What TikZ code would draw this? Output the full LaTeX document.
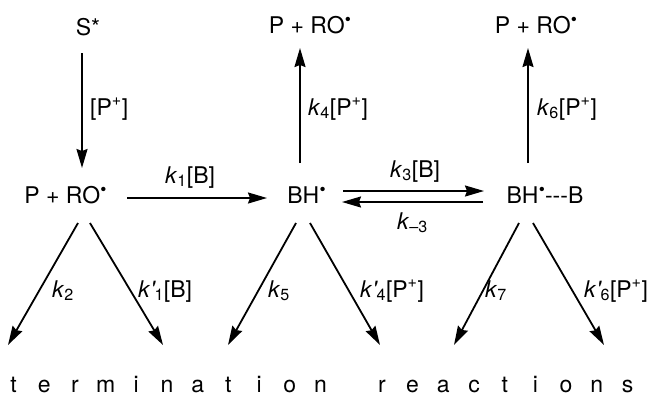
\documentclass[tikz,border=0pt]{standalone}
\usepackage{fontspec}
\setmainfont{TeX Gyre Heros}
\usetikzlibrary{arrows.meta,calc}
\newcommand{\rad}{\kern0.3pt\raisebox{7.3pt}{\fontsize{17.5}{17.5}\selectfont\textbullet}}
\newcommand{\kk}{\textit{k}}
\newcommand{\kp}{\textit{k}\textit{\textquotesingle}\kern-1.5pt}
\begin{document}
\begin{tikzpicture}[x=1pt,y=-1pt,
  every node/.style={inner sep=0pt,anchor=base,font=\fontsize{23}{27}\selectfont},
  lbl/.style={anchor=base west},
  arr/.style={line width=1.8pt,-{Stealth[length=19pt,width=11pt,inset=2pt]}},
  letter/.style={anchor=base}]
\useasboundingbox (0,0) rectangle (649,405);
% species
\node (S)   at (88,35)    {S*};
\node (P1)  at (65.5,203) {P + RO\rad};
\node (BH)  at (306.5,203){BH\rad};
\node (BHB) at (545,203)  {BH\rad-{}-{}-B};
\node (P2)  at (310,33)   {P + RO\rad};
\node (P3)  at (536,33)   {P + RO\rad};
% free ends
\coordinate (t1) at (8,345);
\coordinate (t2) at (163,345);
\coordinate (t3) at (228,345);
\coordinate (t4) at (380,345);
\coordinate (t5) at (454,345);
\coordinate (t6) at (604,345);
% connectors
\draw[arr] ($(S.base)+(-6,18)$) -- ($(P1.base)+(16.5,-35)$);
\draw[arr] ($(P1.base)+(61.5,-5)$) -- ($(BH.base)+(-39.5,-5)$);
\draw[arr] ($(BH.base)+(-6.5,-40)$) -- ($(P2.base)+(-10,15)$);
\draw[arr] ($(BHB.base)+(-17,-40)$) -- ($(P3.base)+(-8,15)$);
\draw[arr] ($(BH.base)+(36.5,-12)$) -- ($(BHB.base)+(-61,-12)$);
\draw[arr] ($(BHB.base)+(-62,-1)$) -- ($(BH.base)+(35.5,-1)$);
\draw[arr] ($(P1.base)+(12.5,20)$) -- (t1);
\draw[arr] ($(P1.base)+(24.5,20)$) -- (t2);
\draw[arr] ($(BH.base)+(-10.5,20)$) -- (t3);
\draw[arr] ($(BH.base)+(3.5,20)$) -- (t4);
\draw[arr] ($(BHB.base)+(-26,20)$) -- (t5);
\draw[arr] ($(BHB.base)+(-12,20)$) -- (t6);
% labels
\node[lbl] (l1)  at (90,115)  {[P\textsuperscript{+}]};
\node[lbl] (l2)  at (165,183) {\kk\textsubscript{1}[B]};
\node[lbl] (l3)  at (308,115) {\kk\textsubscript{4}[P\textsuperscript{+}]};
\node[lbl] (l4)  at (537,115) {\kk\textsubscript{6}[P\textsuperscript{+}]};
\node[lbl] (l5)  at (390,177) {\kk\textsubscript{3}[B]};
\node[lbl] (l6)  at (397,229) {\kk\textsubscript{–3}};
\node[lbl] (l7)  at (52,297)  {\kk\textsubscript{2}};
\node[lbl] (l8)  at (138,297) {\kp\textsubscript{1}[B]};
\node[lbl] (l9)  at (268,297) {\kk\textsubscript{5}};
\node[lbl] (l10) at (360,297) {\kp\textsubscript{4}[P\textsuperscript{+}]};
\node[lbl] (l11) at (485,297) {\kk\textsubscript{7}};
\node[lbl] (l12) at (584,297) {\kp\textsubscript{6}[P\textsuperscript{+}]};
% bottom text
\foreach \c [count=\i from 0] in {t,e,r,m,i,n,a,t,i,o,n,{},r,e,a,c,t,i,o,n,s}
  \node[letter] (w\i) at (13.5+\i*30.7,392) {\c};
\end{tikzpicture}
\end{document}
